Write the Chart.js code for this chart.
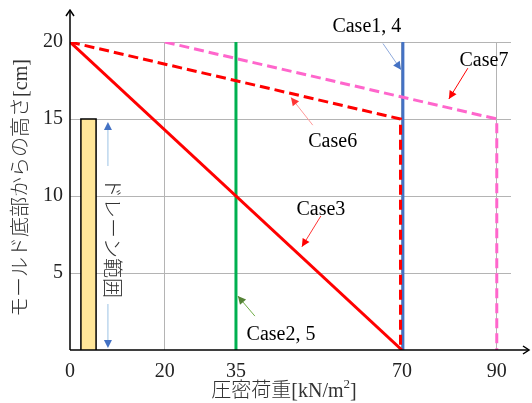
<!DOCTYPE html>
<html><head><meta charset="utf-8">
<script src="https://cdn.jsdelivr.net/npm/chart.js@4.4.0/dist/chart.umd.min.js"></script>
<style>html,body{margin:0;padding:0;background:#fff}#wrap{width:532px;height:403px}</style>
</head><body><div id="wrap"><canvas id="c" width="532" height="403"></canvas></div>
<script>
// ---- data ----
const xTicks = [0, 20, 35, 70, 90];
const yTicks = [5, 10, 15, 20];
const case7 = [{x:20,y:20},{x:90,y:15},{x:90,y:0}];
const case6 = [{x:0,y:20},{x:69.7,y:15},{x:69.7,y:0}];
const case3 = [{x:0,y:20},{x:70,y:0}];
const case14 = [{x:70.2,y:0},{x:70.2,y:20}];
const case25 = [{x:35,y:0},{x:35,y:20}];
const drainBar = [{x:2.3,y:0},{x:2.3,y:15},{x:5.5,y:15},{x:5.5,y:0}];
const drainRange = {x:8, top:15, bottom:0, label:'ドレーン範囲'};
const labels = [
  {text:'Case1, 4', tx:62.6, ty:21.0, ax1:66.0, ay1:19.9, ax2:69.8, ay2:18.2, color:'#8faadc', head:'#4472c4'},
  {text:'Case7', tx:87.3, ty:18.8, ax1:83.9, ay1:18.3, ax2:79.9, ay2:16.3, color:'#ff0000', head:'#ff0000'},
  {text:'Case6', tx:55.4, ty:13.5, ax1:51.2, ay1:14.6, ax2:46.6, ay2:16.4, color:'#ff9999', head:'#ff3333'},
  {text:'Case3', tx:52.9, ty:9.1, ax1:52.9, ay1:8.7, ax2:48.9, ay2:6.7, color:'#ff3333', head:'#ff0000'},
  {text:'Case2, 5', tx:44.5, ty:1.0, ax1:39.0, ay1:2.2, ax2:35.4, ay2:3.5, color:'#70ad47', head:'#548235'}
];
const xTitle = ['圧密荷重[kN/m', '2', ']'];
const yTitle = 'モールド底部からの高さ[cm]';

const FONT = "'Liberation Serif', 'Noto Sans CJK JP', serif";
const JFONT = "300 20px 'Liberation Serif', 'Noto Sans CJK JP', serif";

function arrowHead(ctx, x1, y1, x2, y2, size, color){
  const a = Math.atan2(y2-y1, x2-x1);
  ctx.save();
  ctx.fillStyle = color;
  ctx.beginPath();
  ctx.moveTo(x2, y2);
  ctx.lineTo(x2 - size*Math.cos(a) + size*0.5*Math.sin(a), y2 - size*Math.sin(a) - size*0.5*Math.cos(a));
  ctx.lineTo(x2 - size*Math.cos(a) - size*0.5*Math.sin(a), y2 - size*Math.sin(a) + size*0.5*Math.cos(a));
  ctx.closePath();
  ctx.fill();
  ctx.restore();
}

const deco = {
  id:'deco',
  afterDatasetsDraw(chart){
    const ctx = chart.ctx, xs = chart.scales.x, ys = chart.scales.y, ca = chart.chartArea;
    ctx.save();
    // axes with arrows
    ctx.strokeStyle = '#000'; ctx.lineWidth = 1.5;
    ctx.beginPath();
    ctx.moveTo(ca.left, ca.bottom); ctx.lineTo(ca.left, 10);
    ctx.moveTo(ca.left, ca.bottom); ctx.lineTo(529, ca.bottom);
    ctx.stroke();
    ctx.beginPath();
    ctx.moveTo(ca.left-4, 16); ctx.lineTo(ca.left, 10); ctx.lineTo(ca.left+4, 16);
    ctx.moveTo(523, ca.bottom-4); ctx.lineTo(529, ca.bottom); ctx.lineTo(523, ca.bottom+4);
    ctx.stroke();

    // drain range arrow
    const dx = xs.getPixelForValue(drainRange.x);
    const dTop = ys.getPixelForValue(drainRange.top) + 3;
    const dBot = ys.getPixelForValue(drainRange.bottom) - 2;
    const dMid = (dTop + dBot)/2 + 3;
    ctx.strokeStyle = '#9dc3e6'; ctx.lineWidth = 1;
    ctx.beginPath();
    ctx.moveTo(dx, dTop+6); ctx.lineTo(dx, dMid-72);
    ctx.moveTo(dx, dMid+66); ctx.lineTo(dx, dBot-6);
    ctx.stroke();
    arrowHead(ctx, dx, dTop+10, dx, dTop, 8, '#4472c4');
    arrowHead(ctx, dx, dBot-10, dx, dBot, 8, '#4472c4');
    ctx.save();
    ctx.translate(dx+2, dMid);
    ctx.rotate(Math.PI/2);
    ctx.fillStyle = '#333';
    ctx.font = JFONT;
    ctx.textAlign = 'center'; ctx.textBaseline = 'middle';
    ctx.fillText(drainRange.label, 0, 0);
    ctx.restore();

    // case labels
    ctx.font = "20px " + FONT;
    ctx.textAlign = 'center'; ctx.textBaseline = 'middle';
    labels.forEach(l => {
      ctx.fillStyle = '#000';
      ctx.fillText(l.text, xs.getPixelForValue(l.tx), ys.getPixelForValue(l.ty));
      const x1 = xs.getPixelForValue(l.ax1), y1 = ys.getPixelForValue(l.ay1);
      const x2 = xs.getPixelForValue(l.ax2), y2 = ys.getPixelForValue(l.ay2);
      ctx.strokeStyle = l.color; ctx.lineWidth = 1;
      ctx.beginPath(); ctx.moveTo(x1, y1); ctx.lineTo(x2, y2); ctx.stroke();
      arrowHead(ctx, x1, y1, x2, y2, 8, l.head);
    });

    // axis titles
    ctx.fillStyle = '#333';
    ctx.font = JFONT;
    ctx.save();
    ctx.translate(22, 188);
    ctx.rotate(-Math.PI/2);
    ctx.textAlign = 'center'; ctx.textBaseline = 'middle';
    ctx.fillText(yTitle, 0, 0);
    ctx.restore();

    const w0 = ctx.measureText(xTitle[0]).width;
    ctx.font = "300 13px " + FONT;
    const w1 = ctx.measureText(xTitle[1]).width;
    ctx.font = JFONT;
    const w2 = ctx.measureText(xTitle[2]).width;
    let sx = 284 - (w0+w1+w2)/2;
    ctx.textAlign = 'left'; ctx.textBaseline = 'middle';
    ctx.fillText(xTitle[0], sx, 392);
    ctx.font = "300 13px " + FONT;
    ctx.fillText(xTitle[1], sx+w0, 385);
    ctx.font = JFONT;
    ctx.fillText(xTitle[2], sx+w0+w1, 392);
    ctx.restore();
  }
};

const common = {pointRadius:0, tension:0, fill:false};
new Chart(document.getElementById('c'), {
  type:'line',
  data:{datasets:[
    {...common, label:'Case7', data:case7, borderColor:'#ff66cc', borderWidth:3, borderDash:[10,5]},
    {...common, label:'Case6', data:case6, borderColor:'#ff0000', borderWidth:3, borderDash:[10,5]},
    {...common, label:'Case3', data:case3, borderColor:'#ff0000', borderWidth:3},
    {...common, label:'Case1, 4', data:case14, borderColor:'#4472c4', borderWidth:3},
    {...common, label:'Case2, 5', data:case25, borderColor:'#00b050', borderWidth:3},
    {...common, label:'drain', data:drainBar, borderColor:'#000', borderWidth:1.5, backgroundColor:'#ffe699', fill:'origin'}
  ]},
  options:{
    responsive:false, animation:false,
    layout:{padding:{top:42, right:21, left:0, bottom:0}},
    plugins:{legend:{display:false}, tooltip:{enabled:false}},
    scales:{
      x:{type:'linear', min:0, max:93,
        afterBuildTicks:s=>{s.ticks = xTicks.map(v=>({value:v}));},
        afterFit:s=>{s.height = 53;},
        grid:{color:c=>c.tick && c.tick.value===0?'rgba(0,0,0,0)':'#b4b4b4', lineWidth:1, drawTicks:false},
        border:{display:false},
        ticks:{font:{family:FONT, size:20}, color:'#222', padding:10, maxRotation:0, autoSkip:false}
      },
      y:{type:'linear', min:0, max:20,
        afterBuildTicks:s=>{s.ticks = yTicks.map(v=>({value:v}));},
        afterFit:s=>{s.width = 70;},
        grid:{color:'#b4b4b4', lineWidth:1, drawTicks:false},
        border:{display:false},
        ticks:{font:{family:FONT, size:20}, color:'#222', padding:7}
      }
    }
  },
  plugins:[deco]
});
</script></body></html>
